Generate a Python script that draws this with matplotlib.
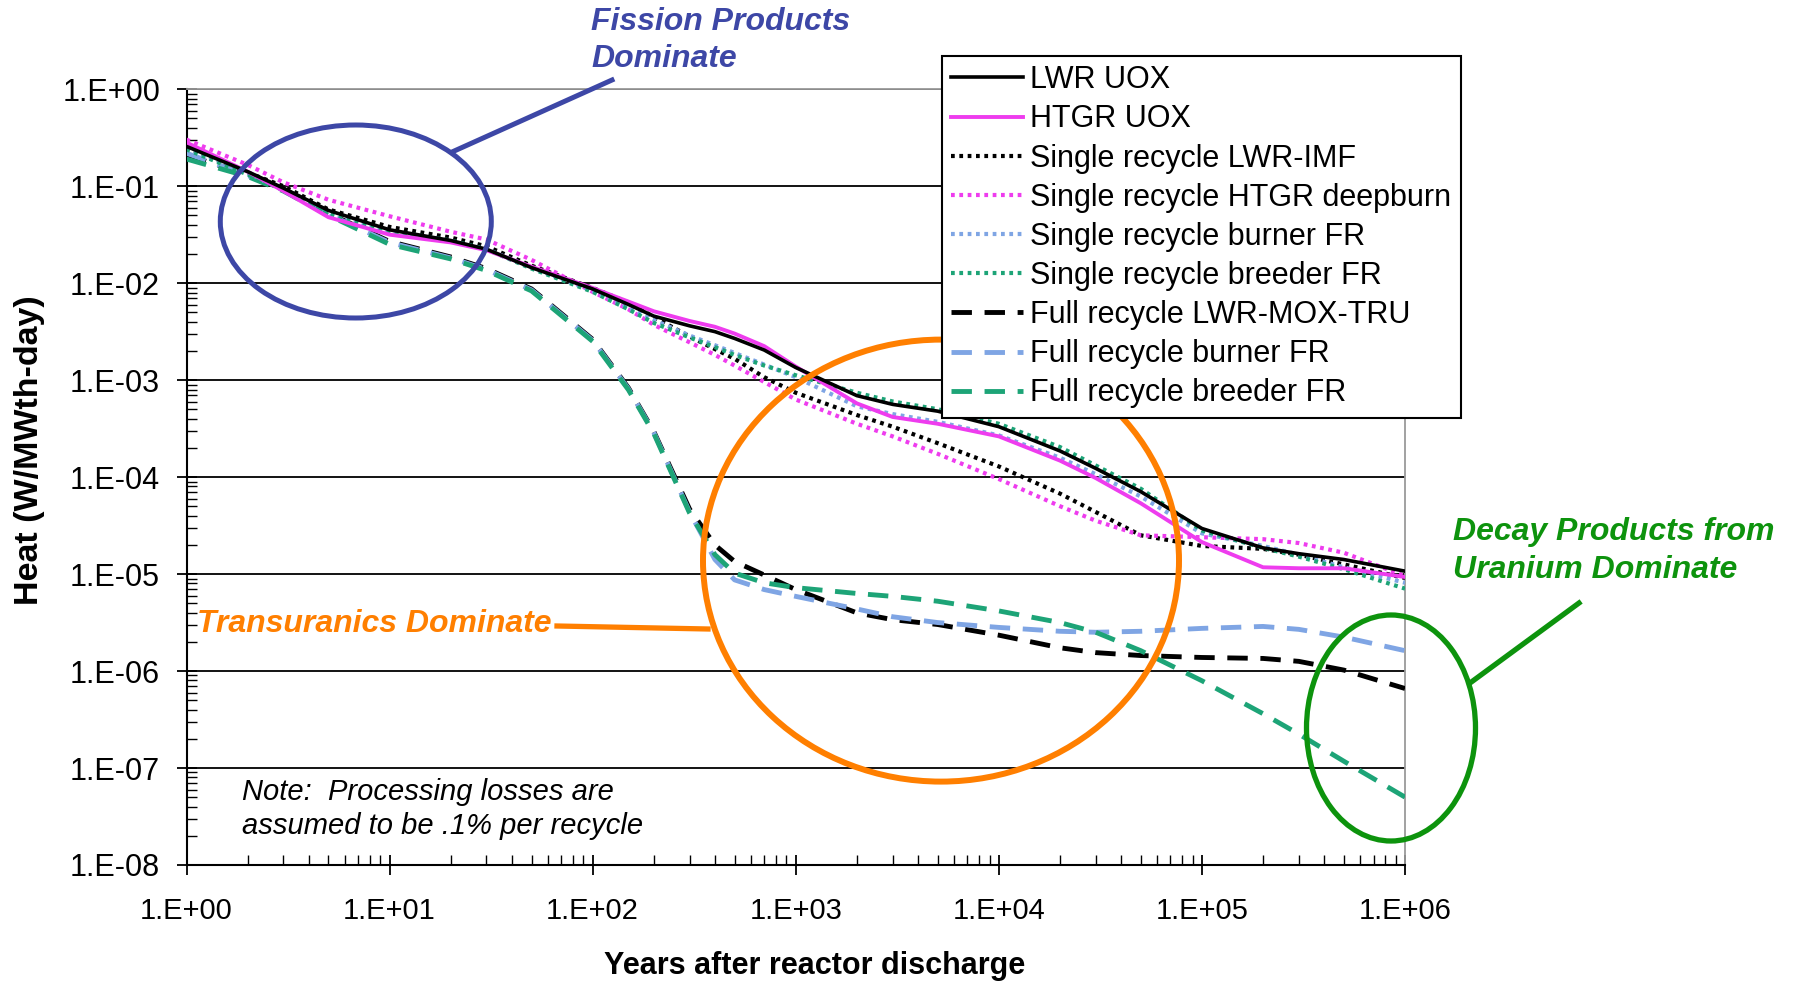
import numpy as np
import matplotlib
matplotlib.use("Agg")
import matplotlib.pyplot as plt
from matplotlib import font_manager
from matplotlib.patches import Ellipse
from matplotlib.lines import Line2D
from matplotlib.ticker import LogLocator, FuncFormatter, NullFormatter

# ---------------- data (log10 of heat in W/MWth-day) -------------
years = [1, 2, 3, 5, 10, 20, 30, 50, 100, 150, 200, 300, 400, 500, 700,
         1e3, 2e3, 3e3, 5e3, 1e4, 2e4, 3e4, 5e4, 1e5, 2e5, 3e5, 5e5, 1e6]

lwr_uox = [-0.59, -0.85, -1.02, -1.25, -1.45, -1.56, -1.65, -1.84, -2.06, -2.22, -2.34, -2.44,
           -2.50, -2.57, -2.69, -2.87, -3.16, -3.25, -3.32, -3.48, -3.73, -3.91, -4.15, -4.53,
           -4.73, -4.79, -4.85, -4.97]
htgr_uox = [-0.55, -0.85, -1.05, -1.32, -1.50, -1.58, -1.66, -1.83, -2.05, -2.19, -2.29, -2.39,
            -2.45, -2.52, -2.65, -2.86, -3.24, -3.38, -3.45, -3.58, -3.83, -4.01, -4.27, -4.67,
            -4.93, -4.94, -4.94, -5.03]
sr_lwr_imf = [-0.60, -0.86, -1.00, -1.24, -1.42, -1.53, -1.62, -1.82, -2.05, -2.20, -2.35, -2.55,
              -2.68, -2.78, -2.97, -3.13, -3.36, -3.48, -3.65, -3.89, -4.17, -4.36, -4.60, -4.71,
              -4.74, -4.80, -4.90, -5.04]
sr_htgr_deepburn = [-0.52, -0.78, -0.96, -1.14, -1.31, -1.47, -1.55, -1.76, -2.09, -2.27, -2.43,
                    -2.61, -2.74, -2.85, -3.02, -3.20, -3.45, -3.58, -3.76, -4.02, -4.30, -4.45,
                    -4.60, -4.62, -4.64, -4.68, -4.78, -5.02]
sr_burner_fr = [-0.60, -0.87, -1.04, -1.30, -1.48, -1.57, -1.65, -1.84, -2.08, -2.25, -2.38, -2.54,
                -2.64, -2.72, -2.84, -2.97, -3.27, -3.35, -3.43, -3.57, -3.80, -3.97, -4.20, -4.58,
                -4.71, -4.80, -4.93, -5.09]
sr_breeder_fr = [-0.62, -0.88, -1.04, -1.28, -1.46, -1.56, -1.65, -1.85, -2.09, -2.27, -2.41, -2.56,
                 -2.66, -2.74, -2.85, -2.95, -3.13, -3.22, -3.30, -3.45, -3.69, -3.88, -4.12, -4.55,
                 -4.73, -4.82, -4.95, -5.15]
fr_lwr_mox_tru = [-0.68, -0.88, -1.03, -1.28, -1.57, -1.73, -1.85, -2.06, -2.58, -3.08, -3.53, -4.33,
                  -4.70, -4.87, -5.01, -5.16, -5.40, -5.47, -5.52, -5.63, -5.76, -5.81, -5.84, -5.86,
                  -5.87, -5.90, -5.99, -6.18]
fr_burner_fr = [-0.66, -0.89, -1.04, -1.29, -1.58, -1.74, -1.86, -2.07, -2.59, -3.09, -3.54, -4.36,
                -4.85, -5.06, -5.16, -5.23, -5.36, -5.44, -5.50, -5.55, -5.59, -5.60, -5.59, -5.56,
                -5.54, -5.57, -5.65, -5.79]
fr_breeder_fr = [-0.72, -0.90, -1.05, -1.30, -1.60, -1.75, -1.87, -2.08, -2.60, -3.10, -3.55, -4.37,
                 -4.80, -4.99, -5.09, -5.14, -5.20, -5.23, -5.28, -5.38, -5.50, -5.60, -5.79, -6.10,
                 -6.44, -6.65, -6.93, -7.30]

labels = ["LWR UOX", "HTGR UOX", "Single recycle LWR-IMF", "Single recycle HTGR deepburn",
          "Single recycle burner FR", "Single recycle breeder FR", "Full recycle LWR-MOX-TRU",
          "Full recycle burner FR", "Full recycle breeder FR"]

# ---------------- fonts ----------------
names = {f.name for f in font_manager.fontManager.ttflist}
BASE = "Liberation Sans" if "Liberation Sans" in names else "DejaVu Sans"
HAS_NARROW = "Liberation Sans Narrow" in names
NARROW = "Liberation Sans Narrow" if HAS_NARROW else BASE
plt.rcParams["font.family"] = [BASE, "DejaVu Sans"]

# ---------------- figure ----------------
W, H = 1794, 986
fig = plt.figure(figsize=(W / 100, H / 100), dpi=100)
fig.patch.set_facecolor("white")
ax = fig.add_axes([186.5 / W, (H - 865) / H, (1405 - 186.5) / W, (865 - 89.2) / H])

MAG = "#EE3CEE"
LBLUE = "#7FA5E4"
GREEN = "#1DA477"
BLACK = "#000000"

SOLID = "-"
DOT = (0, (0.9, 1.1))
DASH = (0, (4.2, 2.6))

series = [
    (lwr_uox, BLACK, SOLID, 2.6, 6),
    (htgr_uox, MAG, SOLID, 2.8, 5),
    (sr_lwr_imf, BLACK, DOT, 3.0, 4),
    (sr_htgr_deepburn, MAG, DOT, 3.0, 4),
    (sr_burner_fr, LBLUE, DOT, 3.0, 4),
    (sr_breeder_fr, GREEN, DOT, 3.0, 4),
    (fr_lwr_mox_tru, BLACK, DASH, 3.5, 3),
    (fr_burner_fr, LBLUE, DASH, 3.5, 3),
    (fr_breeder_fr, GREEN, DASH, 3.5, 3),
]

x = np.array(years, dtype=float)
handles = []
for (vals, col, ls, lw, z), lab in zip(series, labels):
    (h,) = ax.plot(x, np.power(10.0, np.array(vals)), color=col, linestyle=ls, lw=lw,
                   zorder=z, label=lab, solid_joinstyle="round")
    handles.append(h)

ax.set_xscale("log")
ax.set_yscale("log")
ax.set_xlim(1, 1e6)
ax.set_ylim(1e-8, 1)

fmt = FuncFormatter(lambda v, p: "1.E{:+03d}".format(int(round(np.log10(v)))))
for axis in (ax.xaxis, ax.yaxis):
    axis.set_major_locator(LogLocator(base=10, numticks=30))
    axis.set_minor_locator(LogLocator(base=10, subs=np.arange(2, 10), numticks=30))
    axis.set_major_formatter(fmt)
    axis.set_minor_formatter(NullFormatter())

ax.yaxis.grid(True, which="major", color="black", lw=1.3)
ax.set_axisbelow(True)
for s in ("left", "bottom"):
    ax.spines[s].set_color("black")
    ax.spines[s].set_linewidth(1.5)
for s in ("top", "right"):
    ax.spines[s].set_color("#9a9a9a")
    ax.spines[s].set_linewidth(1.3)

ax.tick_params(axis="both", which="major", direction="inout", length=14, width=1.3, color="black")
ax.tick_params(axis="both", which="minor", direction="in", length=7, width=1.0, color="black")
ax.tick_params(axis="y", which="major", labelsize=22, pad=12)
ax.tick_params(axis="x", which="major", labelsize=(25 if HAS_NARROW else 21), pad=16)
for t in ax.get_xticklabels():
    t.set_family([NARROW, "DejaVu Sans"])
for t in ax.get_yticklabels():
    t.set_family([BASE, "DejaVu Sans"])

# axis titles
fig.text(30 / W, 1 - 450 / H, "Heat (W/MWth-day)", rotation=90, ha="center", va="center",
         fontsize=24.5, fontweight="bold", family=[BASE, "DejaVu Sans"])
fig.text(815 / W, 1 - 966 / H, "Years after reactor discharge", ha="center", va="center",
         fontsize=(26 if HAS_NARROW else 22), fontweight="bold", family=[NARROW, "DejaVu Sans"])

# legend
leg = fig.legend(handles, labels, loc="upper left", bbox_to_anchor=(941.6 / W, 1 - 56 / H),
                 bbox_transform=fig.transFigure, frameon=True, fancybox=False, edgecolor="black",
                 framealpha=1, prop={"family": [BASE, "DejaVu Sans"], "size": 22},
                 handlelength=2.35, handletextpad=0.25, labelspacing=0.30, borderpad=0.30,
                 borderaxespad=0)
leg.get_frame().set_linewidth(1.5)
leg.set_zorder(20)

# ---------------- annotations (figure pixel coordinates) ----------------
def F(px, py):
    return (px / W, 1 - py / H)

BLUE_A = "#3D47A6"
ORANGE = "#FF7F00"
GREEN_A = "#0D930D"

fig.text(*F(591, 7), "Fission Products\nDominate", ha="left", va="top", fontsize=23,
         fontweight="bold", style="italic", color=BLUE_A, linespacing=1.32)
fig.text(*F(197, 624), "Transuranics Dominate", ha="left", va="center", fontsize=23,
         fontweight="bold", style="italic", color=ORANGE)
fig.text(*F(1453, 551), "Decay Products from\nUranium Dominate", ha="left", va="center",
         fontsize=23, fontweight="bold", style="italic", color=GREEN_A, linespacing=1.32)
fig.text(*F(242, 809), "Note:  Processing losses are\nassumed to be .1% per recycle", ha="left",
         va="center", fontsize=21, style="italic", color="black", linespacing=1.3, zorder=10)

def ellipse(cx, cy, w, h, col, lw):
    e = Ellipse(F(cx, cy), w / W, h / H, transform=fig.transFigure, fill=False,
                edgecolor=col, lw=lw, zorder=15)
    fig.patches.append(e)

def seg(x0, y0, x1, y1, col, lw):
    p0, p1 = F(x0, y0), F(x1, y1)
    fig.lines.append(Line2D([p0[0], p1[0]], [p0[1], p1[1]], transform=fig.transFigure,
                            color=col, lw=lw, zorder=15))

ellipse(355.8, 221.5, 271, 193, BLUE_A, 3.6)
seg(452, 152, 612, 80, BLUE_A, 3.6)
ellipse(941, 560.6, 476, 442, ORANGE, 4.3)
seg(557, 626, 708, 629, ORANGE, 3.8)
ellipse(1391, 728, 169, 226, GREEN_A, 3.8)
seg(1470, 683, 1579, 603, GREEN_A, 3.8)

fig.savefig("out.png", dpi=100, facecolor="white")
